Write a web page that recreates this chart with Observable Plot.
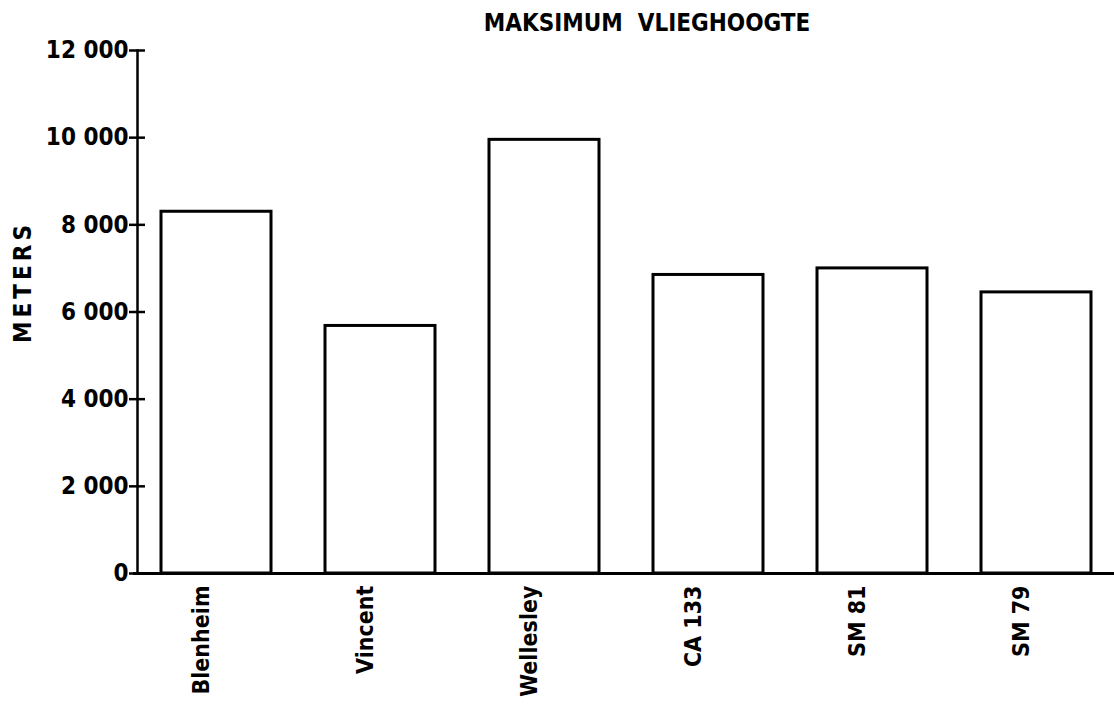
<!DOCTYPE html>
<html>
<head>
<meta charset="utf-8">
<script src="https://cdn.jsdelivr.net/npm/d3@7"></script>
<script src="https://cdn.jsdelivr.net/npm/@observablehq/plot@0.6"></script>
<style>
  html, body { margin: 0; padding: 0; background: #fff; }
  svg { font-family: "DejaVu Sans Condensed", "Liberation Sans Narrow", sans-serif; font-weight: bold; }
  .ylab { letter-spacing: 4px; }
</style>
</head>
<body>
<div id="chart"></div>
<script>
const title = "MAKSIMUM  VLIEGHOOGTE";
const yLabel = "METERS";
const aircraft = ["Blenheim", "Vincent", "Wellesley", "CA 133", "SM 81", "SM 79"];
const maxAltitude = [8300, 5680, 9950, 6850, 7000, 6450];
const yTicks = [0, 2000, 4000, 6000, 8000, 10000, 12000];

const data = aircraft.map((name, i) => ({name, value: maxAltitude[i]}));
const fmt = d => d3.format(",")(d).replace(/,/g, " ");

const W = 1114, ML = 137, MR = 0;

const chart = Plot.plot({
  width: W,
  height: 708,
  marginLeft: ML,
  marginRight: MR,
  marginTop: 50,
  marginBottom: 135,
  style: {fontSize: "24px", fontWeight: "bold", background: "#fff", color: "#000"},
  x: {domain: aircraft, paddingInner: 0.33, paddingOuter: 0.14},
  y: {domain: [0, 12000]},
  marks: [
    Plot.barY(data, {x: "name", y: "value", fill: "white", stroke: "black", strokeWidth: 3}),
    Plot.ruleY([0], {stroke: "black", strokeWidth: 3, insetLeft: -4}),
    Plot.frame({anchor: "left", stroke: "black", strokeWidth: 2.5}),
    Plot.axisY({ticks: yTicks, tickSize: 8, tickPadding: 1, tickFormat: fmt, label: null, strokeWidth: 2.5, fontSize: 24}),
    Plot.axisX({tickSize: 0, tickRotate: -90, tickPadding: 12, dx: -15, label: null, fontSize: 23}),
    Plot.text([title], {frameAnchor: "top", lineAnchor: "middle", dy: -27, dx: 21, fontSize: 24, fontWeight: "bold"}),
    Plot.text([yLabel], {frameAnchor: "left", textAnchor: "middle", dx: -114, dy: -30, rotate: -90, fontSize: 24, fontWeight: "bold"})
  ]
});
const svg = d3.select(chart);
svg.selectAll("text").filter(function() { return this.textContent === yLabel; }).classed("ylab", true);
// make the y-axis tick marks cross the axis line
svg.selectAll('g[aria-label="y-axis tick"] path').attr("d", "M-8,0h16");
document.getElementById("chart").appendChild(chart);
</script>
</body>
</html>
